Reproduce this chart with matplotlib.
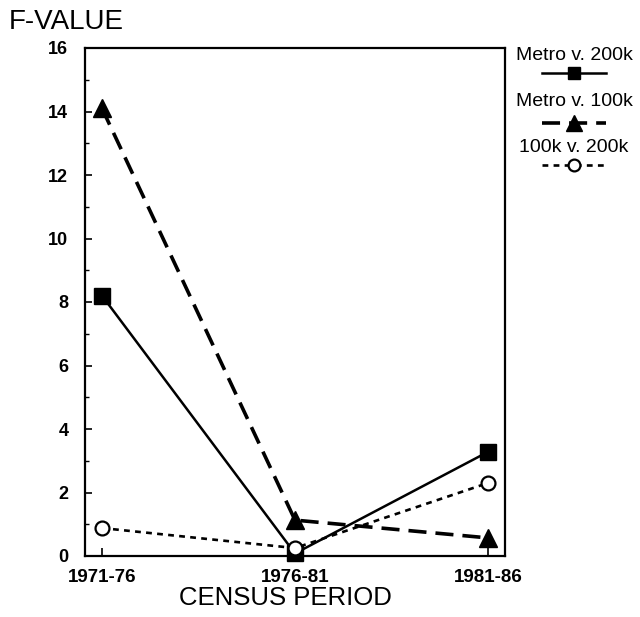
import matplotlib
matplotlib.use('Agg')
import matplotlib.pyplot as plt
from matplotlib.lines import Line2D
from matplotlib.ticker import MultipleLocator

plt.rcParams['font.family'] = ['Liberation Sans', 'DejaVu Sans']

# F-values per census period
periods = ['1971-76', '1976-81', '1981-86']
metro_200k = [8.2, 0.08, 3.28]
metro_100k = [14.1, 1.13, 0.57]
k100_200k = [0.88, 0.25, 2.3]
series_names = ['Metro v. 200k', 'Metro v. 100k', '100k v. 200k']

W, H = 640, 617
fig = plt.figure(figsize=(W / 100, H / 100), dpi=100)
ax = fig.add_axes([85 / W, 1 - 556 / H, 420 / W, 508 / H])

x = range(len(periods))
styles = [
    dict(color='black', linestyle='-', linewidth=1.8, marker='s', markersize=11),
    dict(color='black', linestyle=(0, (5, 2.5)), linewidth=2.6, marker='^', markersize=13),
    dict(color='black', linestyle=(0, (2.2, 2)), linewidth=1.9, marker='o', markersize=10,
         markerfacecolor='white', markeredgewidth=1.6),
]
for vals, st in zip([metro_200k, metro_100k, k100_200k], styles):
    ax.plot(x, vals, **st, clip_on=False, zorder=3)

ax.set_xlim(-0.088, 2.088)
ax.set_ylim(0, 16)
ax.set_xticks(list(x))
ax.set_xticklabels(periods, fontsize=13.5, fontweight='bold')
ax.yaxis.set_major_locator(MultipleLocator(2))
ax.yaxis.set_minor_locator(MultipleLocator(1))
ax.tick_params(axis='y', which='major', direction='in', length=5, width=1.2,
               labelsize=13, pad=12)
ax.tick_params(axis='y', which='minor', direction='in', length=3, width=1)
ax.tick_params(axis='x', direction='in', length=6, width=1.2, pad=9)
for lbl in ax.get_yticklabels():
    lbl.set_fontweight('bold')
for sp in ax.spines.values():
    sp.set_linewidth(1.6)

fig.text(9 / W, 1 - 22 / H, 'F-VALUE', fontsize=20, ha='left', va='center')
fig.text(285 / W, 1 - 598 / H, 'CENSUS PERIOD', fontsize=18.5, ha='center', va='center')

# stacked legend: label on top, sample line below
label_y = [55, 102, 147]
handle_y = [73, 123, 165]
cx = 574
for name, ly, hy, st in zip(series_names, label_y, handle_y, styles):
    fig.text(cx / W, 1 - ly / H, name, fontsize=14, ha='center', va='center')
    st2 = dict(st)
    st2['markersize'] = st['markersize'] * 0.85
    fig.add_artist(Line2D([(cx - 32) / W, cx / W, (cx + 32) / W],
                          [1 - hy / H] * 3, markevery=[1],
                          transform=fig.transFigure, **st2))

fig.savefig('out.png', dpi=100)
